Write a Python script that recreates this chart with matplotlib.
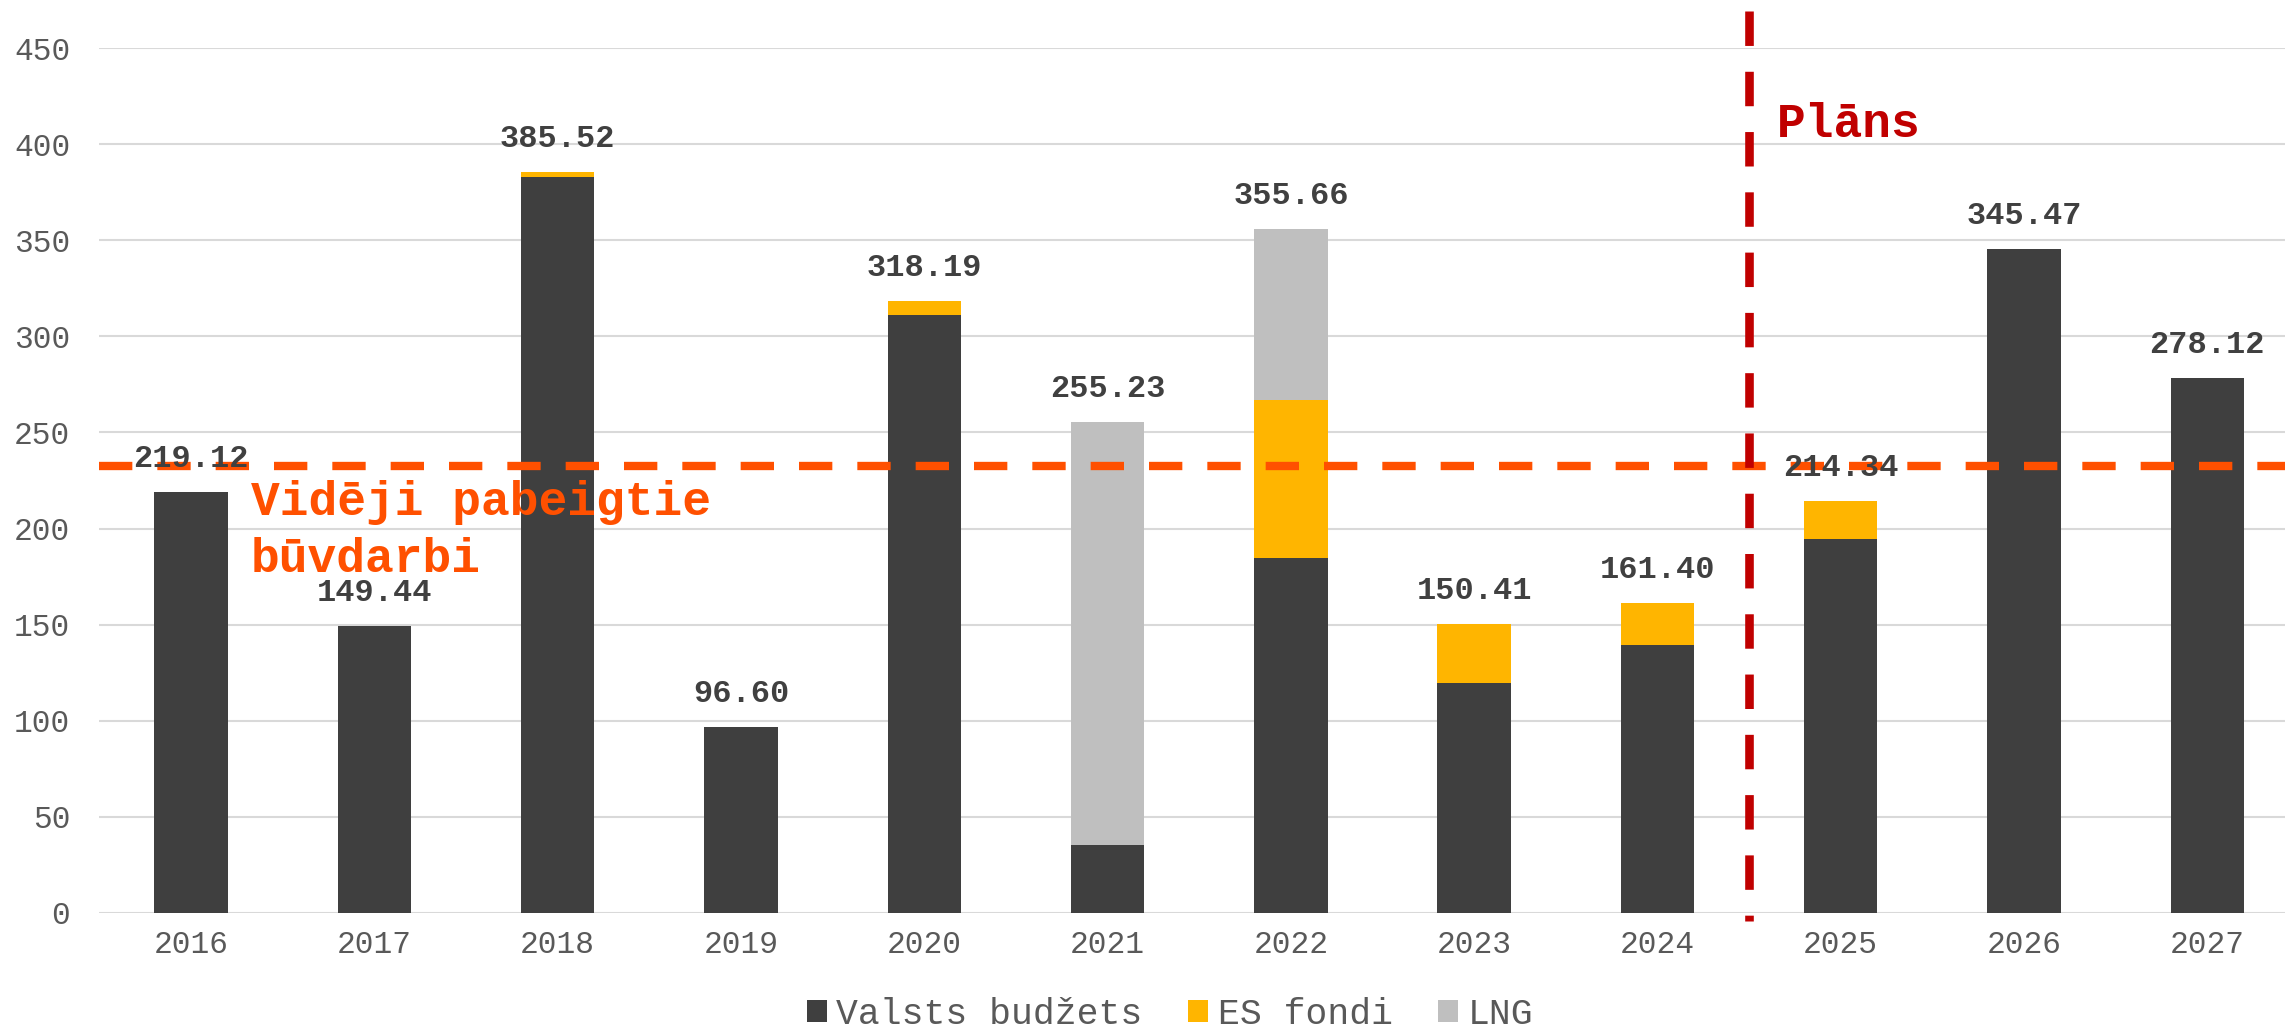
import matplotlib
matplotlib.use("Agg")
import matplotlib.pyplot as plt
import numpy as np

years = ["2016", "2017", "2018", "2019", "2020", "2021", "2022", "2023", "2024", "2025", "2026", "2027"]
valsts = [219.12, 149.44, 383.0, 96.60, 311.0, 35.6, 184.8, 119.7, 139.4, 194.7, 345.47, 278.12]
es_fondi = [0.0, 0.0, 2.52, 0.0, 7.19, 0.0, 81.9, 30.71, 22.0, 19.64, 0.0, 0.0]
lng = [0.0, 0.0, 0.0, 0.0, 0.0, 219.63, 88.96, 0.0, 0.0, 0.0, 0.0, 0.0]
totals = [219.12, 149.44, 385.52, 96.60, 318.19, 255.23, 355.66, 150.41, 161.40, 214.34, 345.47, 278.12]
n_completed = 9  # 2016-2024

series_names = ["Valsts budžets", "ES fondi", "LNG"]
colors = ["#3F3F3F", "#FFB500", "#BFBFBF"]

W, H = 2285, 1029
fig = plt.figure(figsize=(W / 100, H / 100), dpi=100)
ax = fig.add_axes([99.4 / W, 116 / H, 2199.6 / W, 865 / H])

mono = "Liberation Mono"
x = np.arange(len(years))
bw = 0.4
v = np.array(valsts)
e = np.array(es_fondi)
l = np.array(lng)
ax.bar(x, v, bw, color=colors[0], label=series_names[0], zorder=3)
ax.bar(x, e, bw, bottom=v, color=colors[1], label=series_names[1], zorder=3)
ax.bar(x, l, bw, bottom=v + e, color=colors[2], label=series_names[2], zorder=3)

ax.set_xlim(-0.5, len(years) - 0.5)
ax.set_ylim(0, 450)
ax.set_yticks(np.arange(0, 451, 50))
ax.set_xticks(x)
ax.set_xticklabels(years)
ax.grid(axis="y", color="#D9D9D9", linewidth=1.5, zorder=0)
ax.set_axisbelow(True)
for s in ax.spines.values():
    s.set_visible(False)
ax.tick_params(axis="both", length=0, labelcolor="#595959", labelsize=22.5)
ax.tick_params(axis="y", pad=21)
ax.tick_params(axis="x", pad=12)
for lab in ax.get_xticklabels() + ax.get_yticklabels():
    lab.set_fontfamily(mono)

# value labels
for xi, t in zip(x, totals):
    ax.annotate(f"{t:.2f}", (xi, t), xytext=(0, 18), textcoords="offset points",
                ha="center", va="baseline", fontsize=23, fontweight="bold",
                color="#404040", family=mono, zorder=5)

# average line
avg = float(np.mean(totals[:n_completed]))
ax.axhline(avg, color="#FF5000", linewidth=6, dashes=(4, 3), zorder=4)
ax.text(0.327, 207, "Vidēji pabeigtie", fontsize=34.5, fontweight="bold",
        color="#FF5000", family=mono, va="baseline", ha="left", zorder=6)
ax.text(0.327, 177.4, "būvdarbi", fontsize=34.5, fontweight="bold",
        color="#FF5000", family=mono, va="baseline", ha="left", zorder=6)

# plan line
ax.plot([8.5, 8.5], [469, -4], color="#C00000", linewidth=6.2, dashes=(4, 3),
        clip_on=False, zorder=4)
ax.text(8.65, 403.7, "Plāns", fontsize=34.5, fontweight="bold", color="#C00000",
        family=mono, va="baseline", ha="left", zorder=6)

leg = fig.legend(loc="center", bbox_to_anchor=(1170 / W, 15 / H), ncol=3, frameon=False,
                 prop={"family": mono, "size": 26.2}, handlelength=0.56, handleheight=0.56,
                 handletextpad=0.25, columnspacing=1.25, labelcolor="#595959")

fig.savefig("out.png", dpi=100)
